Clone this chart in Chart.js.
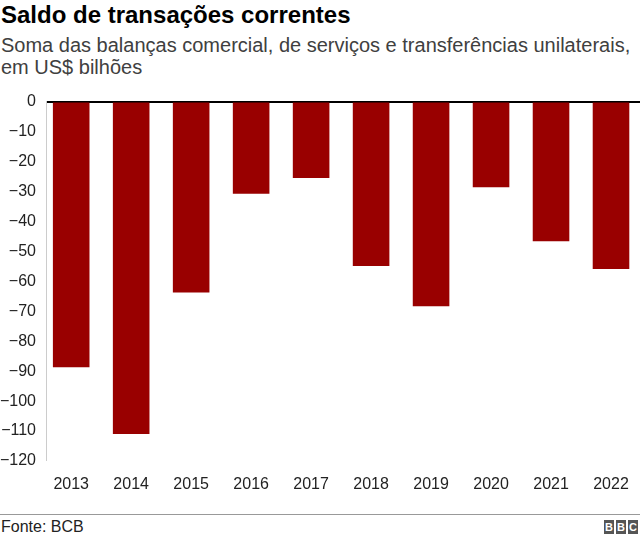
<!DOCTYPE html>
<html>
<head>
<meta charset="utf-8">
<script src="https://cdn.jsdelivr.net/npm/chart.js@4"></script>
<style>
  body { margin: 0; width: 640px; height: 542px; background: #fff; font-family: "Liberation Sans", Arial, sans-serif; position: relative; overflow: hidden; }
  #title { position: absolute; left: 1px; top: 1px; font-size: 24px; font-weight: bold; color: #000; }
  #subtitle { position: absolute; left: 1px; top: 34px; font-size: 20px; line-height: 22px; color: #404040; width: 640px; }
  #wrap { position: absolute; left: 0; top: 82px; width: 641px; height: 420px; }
  #rule { position: absolute; left: 0; top: 514px; width: 640px; height: 1px; background: #999; }
  #source { position: absolute; left: 1px; top: 518px; font-size: 16px; color: #222; }
  #logo { position: absolute; right: 2px; top: 520px; display: flex; gap: 2px; }
  #logo span { width: 10px; height: 14px; background: #555; color: #fff; font-size: 11px; font-weight: bold; text-align: center; line-height: 14px; }
</style>
</head>
<body>
<div id="title">Saldo de transações correntes</div>
<div id="subtitle">Soma das balanças comercial, de serviços e transferências unilaterais, em US$ bilhões</div>
<div id="wrap"><canvas id="chart"></canvas></div>
<div id="rule"></div>
<div id="source">Fonte: BCB</div>
<div id="logo"><span>B</span><span>B</span><span>C</span></div>
<script>
const years = ['2013', '2014', '2015', '2016', '2017', '2018', '2019', '2020', '2021', '2022'];
const saldo = [-88.7, -111.0, -63.7, -30.8, -25.5, -54.9, -68.3, -28.6, -46.6, -55.9];
const yMin = -120;
const yMax = 0;
const yStep = 10;

Chart.defaults.font.family = '"Liberation Sans", Arial, sans-serif';

const points = saldo.map((v, i) => ({ x: i, y: v }));

const ctx = document.getElementById('chart').getContext('2d');
const chart = new Chart(ctx, {
  type: 'bar',
  data: {
    datasets: [{
      data: points,
      backgroundColor: '#990000',
      borderWidth: 0,
      categoryPercentage: 1,
      barPercentage: 0.61,
    }]
  },
  options: {
    responsive: true,
    maintainAspectRatio: false,
    animation: false,
    layout: { padding: { top: 8, right: 0, left: 0, bottom: 0 } },
    plugins: { legend: { display: false }, tooltip: { enabled: false } },
    scales: {
      x: {
        type: 'linear',
        offset: false,
        min: -0.42,
        max: 9.5,
        grid: { display: false },
        border: { display: false },
        ticks: {
          color: '#222',
          font: { size: 16 },
          padding: 6,
          maxRotation: 0,
          autoSkip: false,
          callback: (v) => years[v]
        },
        afterBuildTicks: (scale) => { scale.ticks = years.map((y, i) => ({ value: i })); },
        afterFit: (scale) => { scale.height = 41; }
      },
      y: {
        min: yMin,
        max: yMax,
        grid: {
          drawTicks: false,
          color: (c) => c.tick && c.tick.value === 0 ? '#000' : 'rgba(0,0,0,0)',
          lineWidth: (c) => c.tick && c.tick.value === 0 ? 2 : 0,
        },
        border: { display: true, color: '#ccc', width: 1 },
        ticks: {
          stepSize: yStep,
          color: '#222',
          font: { size: 16 },
          padding: 10,
          callback: (v) => v < 0 ? '\u2212' + Math.abs(v) : String(v)
        },
        afterFit: (scale) => { scale.width = 46; }
      }
    }
  }
});
</script>
</body>
</html>
